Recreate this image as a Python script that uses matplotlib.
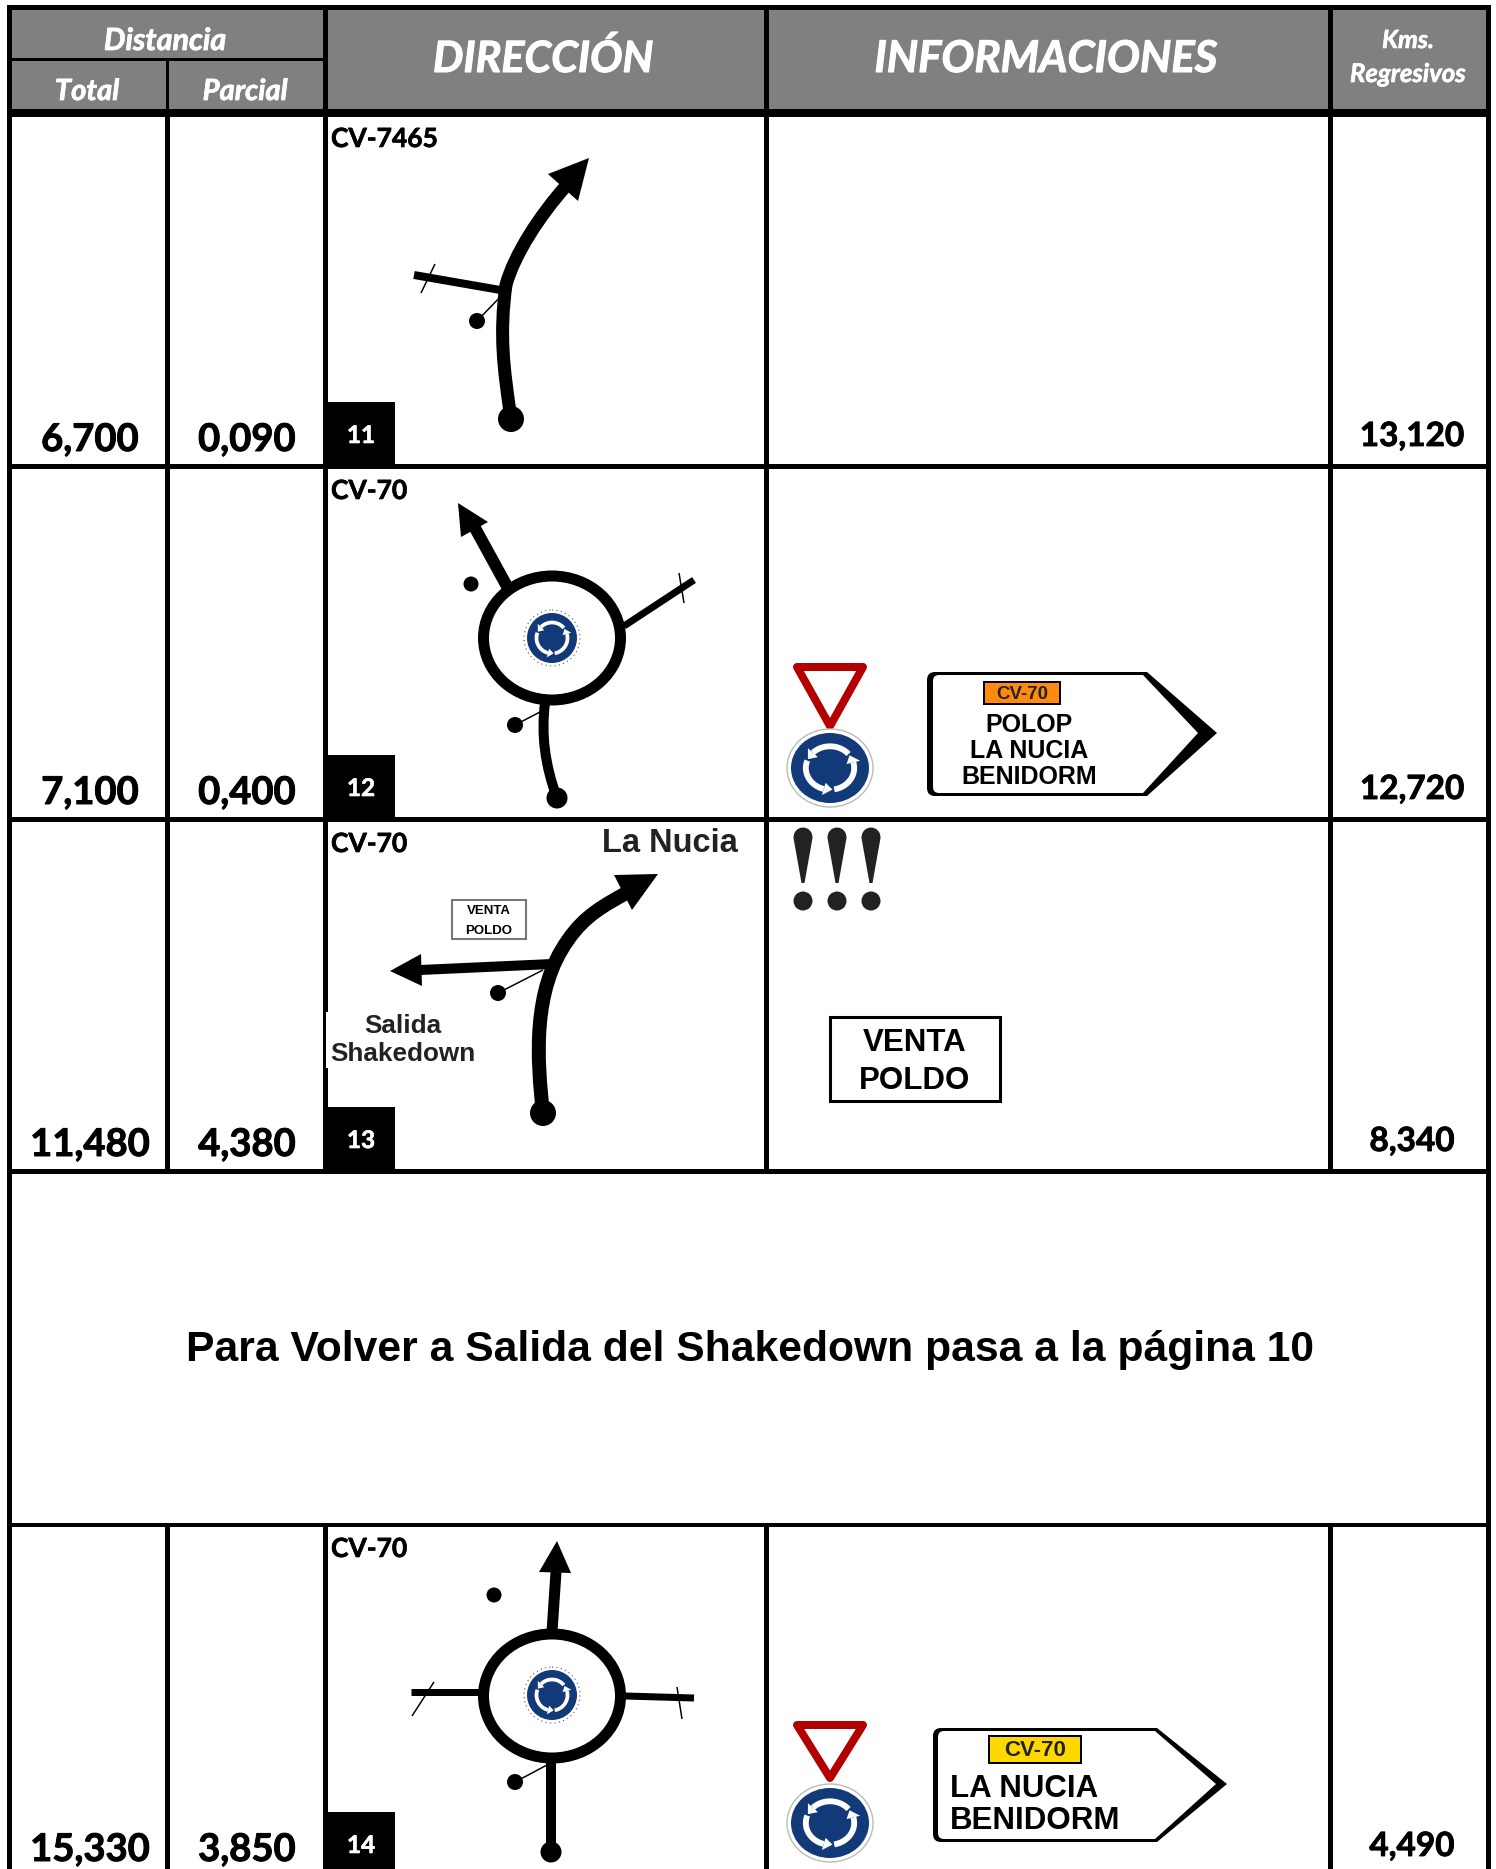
import numpy as np
import matplotlib
matplotlib.use('Agg')
import matplotlib.pyplot as plt
import matplotlib.patheffects as pe
from matplotlib.patches import Rectangle, Ellipse, Polygon, PathPatch
from matplotlib.path import Path

totals = ['6,700', '7,100', '11,480', '15,330']
partials = ['0,090', '0,400', '4,380', '3,850']
regresivos = ['13,120', '12,720', '8,340', '4,490']
casillas = ['11', '12', '13', '14']
carreteras = ['CV-7465', 'CV-70', 'CV-70', 'CV-70']
nota = 'Para Volver a Salida del Shakedown pasa a la página 10'

col_lines = [(7, 12), (165, 170), (323, 328), (764, 769), (1328, 1333), (1486, 1491)]
row_tops = [117, 469, 822, 1527]
row_bottoms = [464, 817, 1169, 1874]
note_lines = [(1169, 1173), (1523, 1527)]

GREY = '#808080'
BLUE = '#123a78'
RED = '#b30000'
CAL = 'Lato'
ARIAL = 'Liberation Sans'

fig = plt.figure(figsize=(14.96, 18.69), dpi=100)
ax = fig.add_axes([0, 0, 1, 1])
ax.set_xlim(0, 1496)
ax.set_ylim(1869, 0)
ax.axis('off')


def box(x0, y0, x1, y1, color='black', z=1, **kw):
    ax.add_patch(Rectangle((x0, y0), x1 - x0, y1 - y0, facecolor=color, edgecolor='none', zorder=z, **kw))


def curve(points, width, z=3):
    # points: start, then three points per cubic segment
    codes = [Path.MOVETO] + [Path.CURVE4] * (len(points) - 1)
    ax.add_patch(PathPatch(Path(points, codes), fill=False, edgecolor='black', lw=width * 0.72, capstyle='butt', zorder=z))


def seg(a, b, width=7):
    ax.plot([a[0], b[0]], [a[1], b[1]], color='black', lw=width * 0.72, solid_capstyle='butt', zorder=3)


def dot(x, y, r):
    ax.add_patch(Ellipse((x, y), 2 * r, 2 * r, facecolor='black', edgecolor='none', zorder=4))


def head(*pts):
    ax.add_patch(Polygon(pts, closed=True, facecolor='black', edgecolor='none', zorder=4))


def roundabout(cx, cy):
    ax.add_patch(Ellipse((cx, cy), 137, 124, fill=False, edgecolor='black', lw=11 * 0.72, zorder=3))


def sign_icon(cx, cy, rx, ry, small=False):
    if small:
        ax.add_patch(Ellipse((cx, cy), 2 * rx + 6, 2 * ry + 6, facecolor='white', edgecolor='#555555', lw=0.8, ls=(0, (1, 3)), zorder=4))
    else:
        ax.add_patch(Ellipse((cx, cy), 2 * rx + 8, 2 * ry + 8, facecolor='white', edgecolor='#bbbbbb', lw=1, zorder=4))
    ax.add_patch(Ellipse((cx, cy), 2 * rx, 2 * ry, facecolor=BLUE, edgecolor='none', zorder=5))
    for start in [40, 160, 280]:
        t = np.radians(np.linspace(start, start + 95, 30))
        ax.plot(cx + 0.62 * rx * np.cos(t), cy - 0.62 * ry * np.sin(t), color='white',
                lw=rx * 0.15 * 0.72, solid_capstyle='butt', zorder=6)
        e = np.radians(start + 95)
        tip = np.radians(start + 116)
        ax.add_patch(Polygon([
            (cx + 0.8 * rx * np.cos(e), cy - 0.8 * ry * np.sin(e)),
            (cx + 0.44 * rx * np.cos(e), cy - 0.44 * ry * np.sin(e)),
            (cx + 0.62 * rx * np.cos(tip), cy - 0.62 * ry * np.sin(tip))],
            closed=True, facecolor='white', edgecolor='none', zorder=6))


def ceda(x0, x1, top, apex):
    cx = (x0 + x1) / 2
    ax.add_patch(Polygon([(x0 + 4, top + 4), (x1 - 4, top + 4), (cx, apex - 5)], closed=True,
                         facecolor='white', edgecolor=RED, lw=8 * 0.72, joinstyle='round', zorder=4))


def sign_path(l, r, t, b, s, ty, rad):
    verts = [(l + rad, t), (s, t), (r, ty), (s, b), (l + rad, b), (l, b), (l, b - rad), (l, t + rad), (l, t), (l + rad, t), (l + rad, t)]
    codes = [Path.MOVETO, Path.LINETO, Path.LINETO, Path.LINETO, Path.LINETO, Path.CURVE3, Path.CURVE3,
             Path.LINETO, Path.CURVE3, Path.CURVE3, Path.CLOSEPOLY]
    return Path(verts, codes)


def arrow_sign(outer, inner):
    ax.add_patch(PathPatch(sign_path(*outer, 8), facecolor='black', edgecolor='none', zorder=3))
    ax.add_patch(PathPatch(sign_path(*inner, 6), facecolor='white', edgecolor='none', zorder=4))


def label(x, y, s, size, family=ARIAL, color='black', ha='center', weight='bold', style='normal', z=8):
    t = ax.text(x, y, s, fontsize=size, family=family, color=color, ha=ha, va='baseline', weight=weight, style=style, zorder=z)
    if family == CAL:
        # Lato bold is lighter than the reference face
        t.set_path_effects([pe.withStroke(linewidth=size * 0.025, foreground=color)])


# header
box(12, 10, 1486, 109, GREY)
box(7, 5, 1491, 10)
box(7, 109, 1491, 117)
box(12, 58, 323, 61)
box(166, 61, 169, 109)
for x0, x1 in col_lines:
    if x0 != 165:
        box(x0, 5, x1, 117)

label(165, 50, 'Distancia', 22, CAL, 'white', style='italic')
label(87, 100, 'Total', 21, CAL, 'white', style='italic')
label(245, 100, 'Parcial', 21, CAL, 'white', style='italic')
label(543, 72, 'DIRECCIÓN', 31, CAL, 'white', style='italic')
label(1046, 72, 'INFORMACIONES', 31.5, CAL, 'white', style='italic')
label(1408, 48, 'Kms.', 18, CAL, 'white', style='italic')
label(1408, 82, 'Regresivos', 18.5, CAL, 'white', style='italic')

# grid
for top, bottom in zip(row_tops, row_bottoms):
    for x0, x1 in col_lines:
        box(x0, top, x1, bottom + 5)
    box(7, bottom, 1491, bottom + 5)
for y0, y1 in note_lines:
    box(7, y0, 1491, y1)
box(7, 1169, 12, 1527)
box(1486, 1169, 1491, 1527)

for i in range(4):
    top = row_tops[i]
    bottom = row_bottoms[i]
    label(90, bottom - 13, totals[i], 27.5, CAL)
    label(247, bottom - 13, partials[i], 27.5, CAL)
    label(1412, bottom - 18, regresivos[i], 24, CAL)
    label(331, top + 30, carreteras[i], 19, CAL, ha='left')
    box(328, bottom - 62, 395, bottom + 1, z=2)
    label(361, bottom - 21, casillas[i], 17.5, CAL, 'white')

label(750, 1361, nota, 30.7, ARIAL)

# casilla 11
curve([(510, 412), (504, 370), (499, 335), (506, 285), (514, 255), (540, 215), (566, 186)], 13)
head((589, 158), (548, 174), (578, 201))
dot(511, 419, 13)
seg((414, 275), (506, 291), 8)
seg((435, 264), (421, 293), 1.5)
dot(477, 321, 8)
seg((477, 321), (504, 293), 1.5)

# casilla 12
roundabout(552, 638)
sign_icon(552, 638, 25, 25, small=True)
seg((509, 590), (475, 528), 12)
head((458, 503), (488, 522), (461, 537))
dot(471, 584, 7.5)
seg((624, 626), (694, 580), 7)
seg((679, 573), (684, 603), 1.5)
curve([(545, 703), (541, 735), (545, 765), (557, 798)], 10)
dot(557, 798, 10.5)
dot(515, 725, 8)
seg((515, 725), (540, 712), 1.5)

# casilla 13
curve([(543, 1113), (537, 1060), (532, 990), (568, 940), (585, 915), (605, 905), (628, 892)], 14)
head((658, 874), (614, 875), (632, 910))
dot(543, 1113, 13)
seg((552, 964), (420, 970), 10)
head((390, 971), (421, 954), (422, 986))
dot(498, 993, 8)
seg((498, 993), (543, 970), 1.5)
ax.add_patch(Rectangle((452, 900), 74, 39, facecolor='white', edgecolor='#777777', lw=1.5, zorder=3))
label(489, 914, 'VENTA', 9.5, ARIAL)
label(489, 934, 'POLDO', 9.5, ARIAL)
box(326, 1012, 480, 1068, 'white', z=2)
label(403, 1033, 'Salida', 18.8, ARIAL, '#222222')
label(403, 1061, 'Shakedown', 18.8, ARIAL, '#222222')
label(738, 852, 'La Nucia', 23.5, ARIAL, '#222222', ha='right')

# casilla 14
roundabout(552, 1696)
sign_icon(552, 1695, 25, 25, small=True)
seg((552, 1632), (556, 1572), 11)
head((557, 1541), (539, 1572), (571, 1573))
dot(494, 1595, 7.5)
seg((411, 1692), (482, 1692), 7)
seg((434, 1682), (412, 1716), 1.5)
seg((625, 1696), (694, 1698), 7)
seg((677, 1687), (682, 1719), 1.5)
seg((551, 1760), (551, 1852), 10)
dot(551, 1852, 10.5)
dot(515, 1782, 8)
seg((515, 1782), (547, 1765), 1.5)

# informaciones fila 12
ceda(793, 867, 663, 731)
sign_icon(830, 768, 39, 35)
arrow_sign((927, 1217, 672, 796, 1147, 733), (933, 1198, 675, 793, 1143, 733))
box(983, 681, 1061, 705, 'black', z=5)
box(985, 683, 1059, 703, '#ff8a0f', z=6)
label(1022, 699, 'CV-70', 13.5, ARIAL, '#222222')
label(1029, 732, 'POLOP', 18, ARIAL)
label(1029, 758, 'LA NUCIA', 18, ARIAL)
label(1029, 784, 'BENIDORM', 18, ARIAL)

# informaciones fila 13
for cx in [803, 837, 871]:
    drop = Path([(cx - 1.5, 883), (cx - 9.5, 838), (cx - 9.5, 824), (cx + 9.5, 824), (cx + 9.5, 838), (cx + 1.5, 883), (cx - 1.5, 883)],
                [Path.MOVETO, Path.LINETO, Path.CURVE4, Path.CURVE4, Path.CURVE4, Path.LINETO, Path.CLOSEPOLY])
    ax.add_patch(PathPatch(drop, facecolor='#222222', edgecolor='none', zorder=4))
    ax.add_patch(Ellipse((cx, 901), 19, 19, facecolor='#222222', edgecolor='none', zorder=4))
ax.add_patch(Rectangle((830, 1017), 170, 84, facecolor='white', edgecolor='black', lw=2.2, zorder=3))
label(915, 1051, 'VENTA', 22.5, ARIAL)
label(915, 1089, 'POLDO', 22.5, ARIAL)

# informaciones fila 14
ceda(793, 867, 1721, 1783)
sign_icon(830, 1823, 39, 35)
arrow_sign((933, 1227, 1728, 1842, 1157, 1784), (938, 1216, 1731, 1839, 1155, 1784))
box(988, 1735, 1082, 1764, 'black', z=5)
box(990, 1737, 1080, 1762, '#ffd800', z=6)
label(1035, 1756, 'CV-70', 16, ARIAL, '#222222')
label(950, 1797, 'LA NUCIA', 22.5, ARIAL, ha='left')
label(950, 1829, 'BENIDORM', 22.5, ARIAL, ha='left')

fig.savefig('out.png', dpi=100)
